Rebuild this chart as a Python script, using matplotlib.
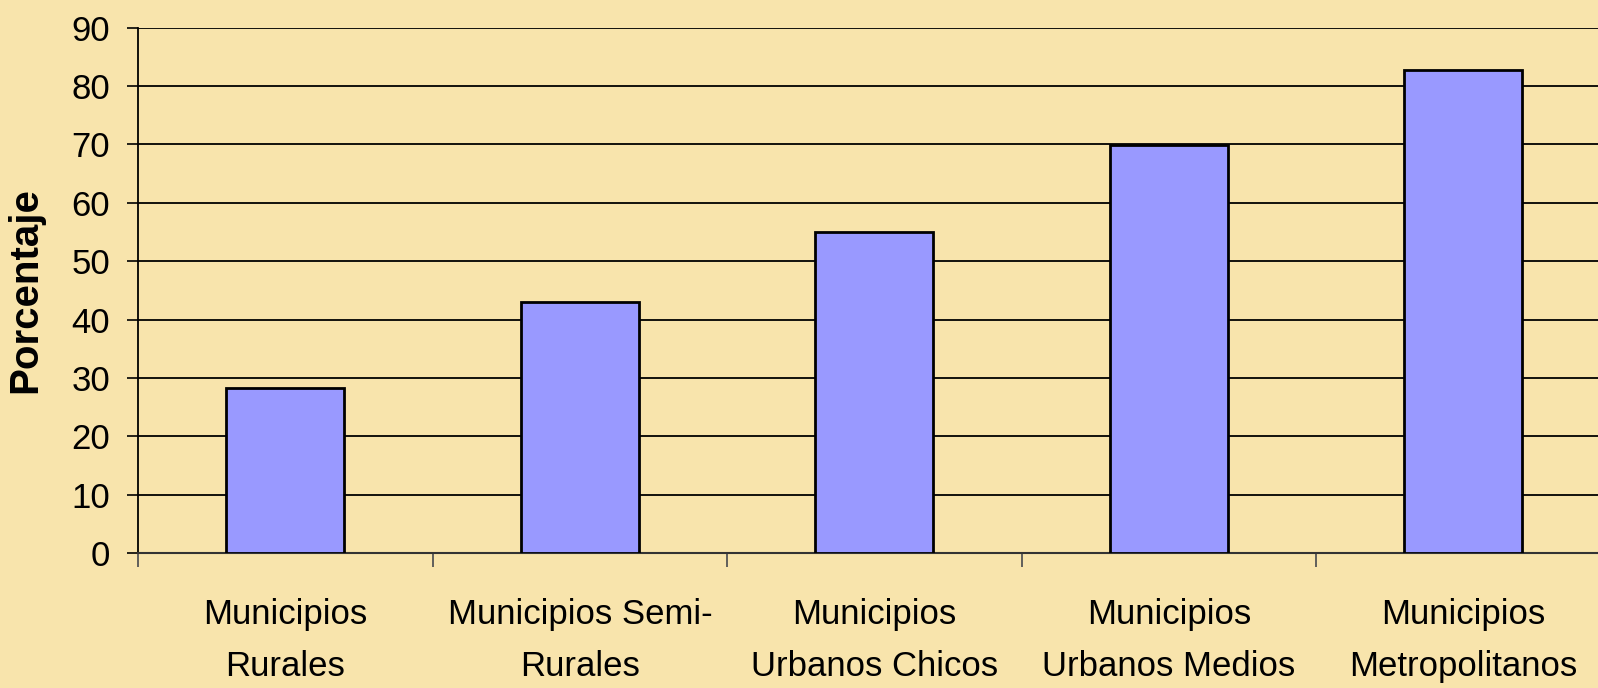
import numpy as np
import matplotlib
matplotlib.use("Agg")
import matplotlib.pyplot as plt

# datos
categorias = ["Municipios\nRurales", "Municipios Semi-\nRurales",
              "Municipios\nUrbanos Chicos", "Municipios\nUrbanos Medios",
              "Municipios\nMetropolitanos"]
porcentajes = [28.2, 43.0, 55.0, 69.8, 82.7]
yticks = [0, 10, 20, 30, 40, 50, 60, 70, 80, 90]

plt.rcParams['font.family'] = ['Liberation Sans', 'DejaVu Sans']

fondo = '#F8E4AC'
fig = plt.figure(figsize=(15.98, 6.88), dpi=100, facecolor=fondo)
# the plot area runs past the right edge of the picture, like the original
ax = fig.add_axes([0.0864, 0.196, 0.9215, 0.764])
ax.set_facecolor(fondo)

x = np.arange(len(categorias))
ax.set_axisbelow(True)
ax.yaxis.grid(True, color='black', linewidth=1.3)
ax.bar(x, porcentajes, width=0.4, color='#9999FF', edgecolor='black',
       linewidth=2, zorder=3)

ax.set_xlim(-0.5, len(categorias) - 0.5)
ax.set_ylim(0, 90)
ax.set_yticks(yticks)
ax.tick_params(axis='y', direction='out', length=8, width=1.2,
               labelsize=25, pad=12, color='black')

# labels at the centres, tick marks at the boundaries
ax.set_xticks(x)
ax.set_xticklabels(categorias, fontsize=25, linespacing=1.75)
ax.tick_params(axis='x', which='major', length=0, pad=32)
ax.set_xticks(np.arange(-0.5, len(categorias), 1.0), minor=True)
ax.tick_params(axis='x', which='minor', length=10, width=1.3, color='#555555')

for s in ['top', 'right']:
    ax.spines[s].set_visible(False)
ax.spines['left'].set_linewidth(1.3)
ax.spines['bottom'].set_linewidth(1.5)
ax.spines['bottom'].set_color('#333333')

ax.set_ylabel('Porcentaje', fontsize=29, fontweight='bold')
ax.yaxis.set_label_coords(-0.064, 0.5)

plt.savefig('out.png', dpi=100, facecolor=fondo)
